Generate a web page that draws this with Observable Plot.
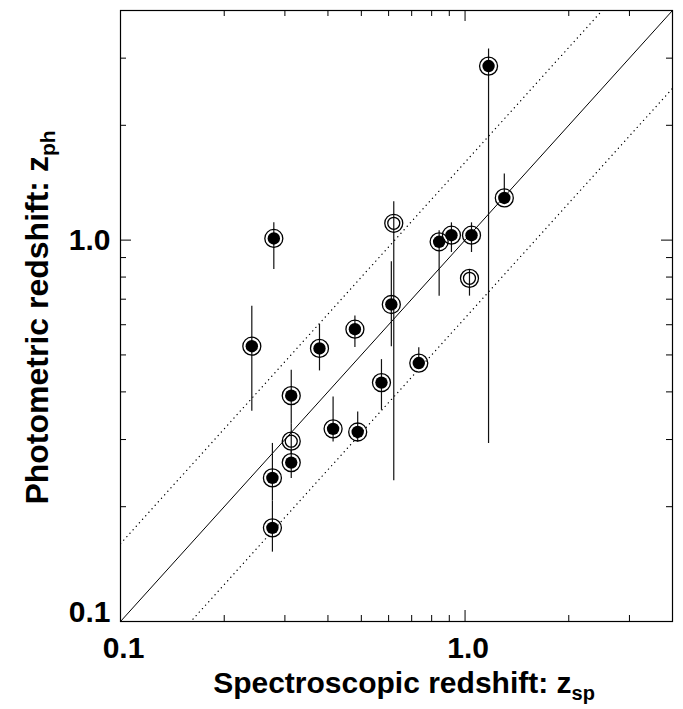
<!DOCTYPE html>
<html>
<head>
<meta charset="utf-8">
<script src="https://cdn.jsdelivr.net/npm/d3@7"></script>
<script src="https://cdn.jsdelivr.net/npm/@observablehq/plot@0.6"></script>
<style>
  html, body { margin: 0; padding: 0; background: #fff; }
  #chart svg { display: block; }
</style>
</head>
<body>
<div id="chart"></div>
<script>
// ---- data ----
const zsp = [1.17, 1.30, 1.044, 0.913, 0.841, 1.030, 0.621, 0.611, 0.2405, 0.2786, 0.378, 0.479, 0.313, 0.313, 0.313, 0.276, 0.276, 0.414, 0.488, 0.572, 0.734];
const zph = [2.86, 1.29, 1.03, 1.03, 0.990, 0.794, 1.107, 0.678, 0.527, 1.010, 0.520, 0.584, 0.391, 0.297, 0.261, 0.238, 0.176, 0.320, 0.314, 0.423, 0.476];
const zphLo = [0.293, 1.24, 0.928, 0.928, 0.713, 0.713, 0.234, 0.525, 0.356, 0.838, 0.454, 0.523, 0.33, 0.275, 0.237, 0.207, 0.152, 0.2955, 0.2955, 0.358, 0.47];
const zphHi = [3.17, 1.49, 1.110, 1.110, 1.058, 0.834, 1.26, 0.877, 0.671, 1.110, 0.601, 0.632, 0.456, 0.33, 0.28, 0.293, 0.207, 0.388, 0.354, 0.486, 0.522];
const isOpen = [false, false, false, false, false, true, true, false, false, false, false, false, false, true, false, false, false, false, false, false, false];

const axisDomain = [0.1, 4];
const majorTicks = [0.1, 1];
const minorTicks = [0.2, 0.3, 0.4, 0.5, 0.6, 0.7, 0.8, 0.9, 2, 3];
const tickLabels = ["0.1", "1.0"];
const bandFactor = 1.6;

const points = zsp.map((x, i) => ({x, y: zph[i], lo: zphLo[i], hi: zphHi[i], open: isOpen[i]}));
const filled = points.filter(d => !d.open);
const hollow = points.filter(d => d.open);
const labelData = majorTicks.map((v, i) => ({v, label: tickLabels[i]}));

// ---- layout ----
const W = 683, H = 709;
const mL = 120, mR = 11, mT = 10, mB = 88;
const plotW = W - mL - mR, plotH = H - mT - mB;
const majorLen = 11, minorLen = 6;
const font = "'Liberation Sans', Arial, Helvetica, sans-serif";

const tickMarks = (ticks, len) => [
  Plot.tickX(ticks, {x: d => d, insetTop: plotH - len, stroke: "black", strokeWidth: 1}),
  Plot.tickX(ticks, {x: d => d, insetBottom: plotH - len, stroke: "black", strokeWidth: 1}),
  Plot.tickY(ticks, {y: d => d, insetRight: plotW - len, stroke: "black", strokeWidth: 1}),
  Plot.tickY(ticks, {y: d => d, insetLeft: plotW - len, stroke: "black", strokeWidth: 1})
];

const chart = Plot.plot({
  width: W,
  height: H,
  marginLeft: mL, marginRight: mR, marginTop: mT, marginBottom: mB,
  style: {fontFamily: font, background: "white", overflow: "visible"},
  x: {type: "log", domain: axisDomain, axis: null},
  y: {type: "log", domain: axisDomain, axis: null},
  marks: [
    // one-to-one and +/- band lines
    Plot.line(axisDomain, {x: d => d, y: d => d, stroke: "black", strokeWidth: 1, clip: true}),
    Plot.line(axisDomain, {x: d => d, y: d => d * bandFactor, stroke: "black", strokeWidth: 1.3, strokeDasharray: "0.1,4.6", strokeLinecap: "round", clip: true}),
    Plot.line(axisDomain, {x: d => d, y: d => d / bandFactor, stroke: "black", strokeWidth: 1.3, strokeDasharray: "0.1,4.6", strokeLinecap: "round", clip: true}),
    // error bars
    Plot.ruleX(points, {x: "x", y1: "lo", y2: "hi", stroke: "#111", strokeWidth: 1.2}),
    // outer rings
    Plot.dot(points, {x: "x", y: "y", r: 9, stroke: "black", strokeWidth: 1.3, fill: "none"}),
    // inner symbols
    Plot.dot(filled, {x: "x", y: "y", r: 6.2, fill: "black", stroke: "none"}),
    Plot.dot(hollow, {x: "x", y: "y", r: 6, fill: "none", stroke: "black", strokeWidth: 1.3}),
    // ticks
    ...tickMarks(majorTicks, majorLen),
    ...tickMarks(minorTicks, minorLen),
    // frame
    Plot.frame({stroke: "black", strokeWidth: 1.2}),
    // tick labels
    Plot.text(labelData, {x: "v", frameAnchor: "bottom", dy: 36, dx: 3, text: "label", fontSize: 30, fontWeight: "bold", fill: "black", textAnchor: "middle"}),
    Plot.text(labelData.slice(1), {y: "v", frameAnchor: "left", dx: -10, dy: 0, text: "label", fontSize: 30, fontWeight: "bold", fill: "black", textAnchor: "end"}),
    Plot.text(labelData.slice(0, 1), {y: "v", frameAnchor: "left", dx: -10, dy: -9, text: "label", fontSize: 30, fontWeight: "bold", fill: "black", textAnchor: "end"})
  ]
});

document.getElementById("chart").appendChild(chart);

// ---- axis titles with subscripts ----
const svg = d3.select(chart);
const xt = svg.append("text")
  .attr("x", mL + plotW / 2 + 8)
  .attr("y", 693)
  .attr("text-anchor", "middle")
  .attr("font-family", font)
  .attr("font-weight", "bold")
  .attr("font-size", 30)
  .attr("fill", "black");
xt.append("tspan").text("Spectroscopic redshift: z");
xt.append("tspan").attr("font-size", 20).attr("dy", 7).text("sp");

const yt = svg.append("text")
  .attr("transform", `translate(48, ${mT + plotH / 2 + 2}) rotate(-90)`)
  .attr("text-anchor", "middle")
  .attr("font-family", font)
  .attr("font-weight", "bold")
  .attr("font-size", 32)
  .attr("fill", "black");
yt.append("tspan").text("Photometric redshift: z");
yt.append("tspan").attr("font-size", 21).attr("dy", 7).text("ph");
</script>
</body>
</html>
